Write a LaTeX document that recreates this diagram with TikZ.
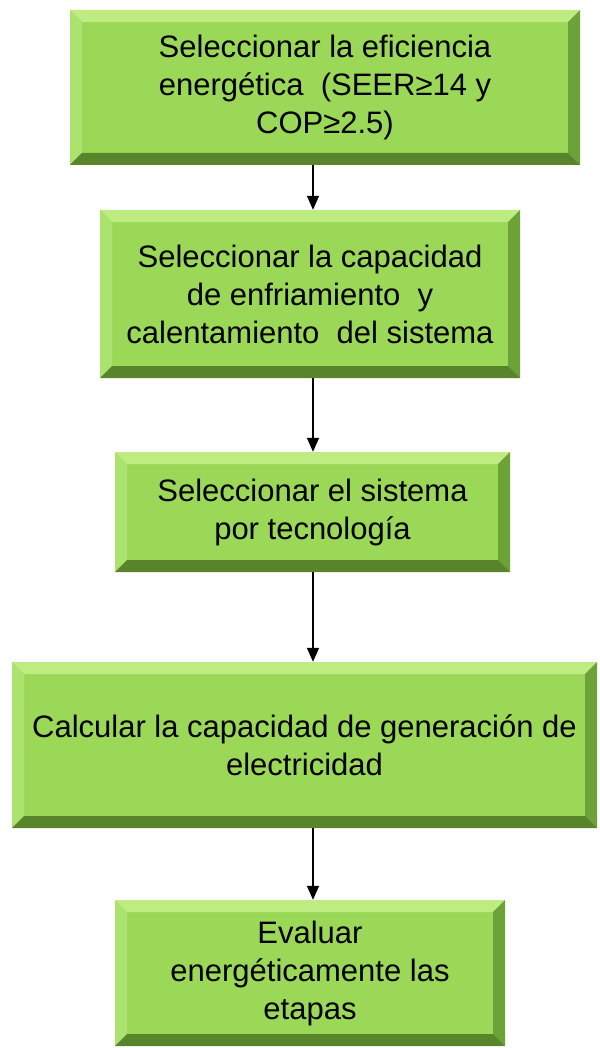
\documentclass[tikz,border=0pt]{standalone}
\usepackage{fontspec}
\setmainfont{Liberation Sans}
\usetikzlibrary{arrows.meta}
\definecolor{boxgreen}{RGB}{155,216,88}
\definecolor{bevtop}{RGB}{190,236,130}
\definecolor{bevleft}{RGB}{172,226,110}
\definecolor{bevright}{RGB}{108,162,56}
\definecolor{bevbot}{RGB}{88,132,44}
\newcommand{\bev}{12pt}
\tikzset{
  stepbox/.style={draw=none, fill=boxgreen, align=center, inner sep=0pt,
    font=\fontsize{31}{38}\selectfont,
    path picture={
      \coordinate (nw) at (path picture bounding box.north west);
      \coordinate (ne) at (path picture bounding box.north east);
      \coordinate (sw) at (path picture bounding box.south west);
      \coordinate (se) at (path picture bounding box.south east);
      \fill[bevtop] (nw) -- (ne) -- ([xshift=-\bev,yshift=-\bev]ne) -- ([xshift=\bev,yshift=-\bev]nw) -- cycle;
      \fill[bevleft] (nw) -- (sw) -- ([xshift=\bev,yshift=\bev]sw) -- ([xshift=\bev,yshift=-\bev]nw) -- cycle;
      \fill[bevright] (ne) -- (se) -- ([xshift=-\bev,yshift=\bev]se) -- ([xshift=-\bev,yshift=-\bev]ne) -- cycle;
      \fill[bevbot] (sw) -- (se) -- ([xshift=-\bev,yshift=\bev]se) -- ([xshift=\bev,yshift=\bev]sw) -- cycle;
    }},
  arr/.style={line width=1.5pt, -{Triangle[length=14pt,width=12pt]}}
}
\begin{document}
\begin{tikzpicture}[x=1pt,y=-1pt]
\useasboundingbox (0,0) rectangle (599,1048);
\node[stepbox, minimum width=510pt, minimum height=155pt] (b1) at (325,87.5)
  {Seleccionar la eficiencia\\energética\ \ (SEER≥14 y\\COP≥2.5)};
\node[stepbox, minimum width=420pt, minimum height=168pt] (b2) at (310,294)
  {Seleccionar la capacidad\\de enfriamiento\ \ y\\calentamiento\ \ del sistema};
\node[stepbox, minimum width=395pt, minimum height=120pt] (b3) at (312.5,512)
  {Seleccionar el sistema\\por tecnología};
\node[stepbox, minimum width=585pt, minimum height=166pt] (b4) at (304.5,745)
  {Calcular la capacidad de generación de\\electricidad};
\node[stepbox, minimum width=390pt, minimum height=146pt] (b5) at (310,973)
  {Evaluar\\energéticamente las\\etapas};
\coordinate (ax) at (313,0);
\draw[arr] (ax |- b1.south) -- (ax |- b2.north);
\draw[arr] (ax |- b2.south) -- (ax |- b3.north);
\draw[arr] (ax |- b3.south) -- (ax |- b4.north);
\draw[arr] (ax |- b4.south) -- (ax |- b5.north);
\end{tikzpicture}
\end{document}
